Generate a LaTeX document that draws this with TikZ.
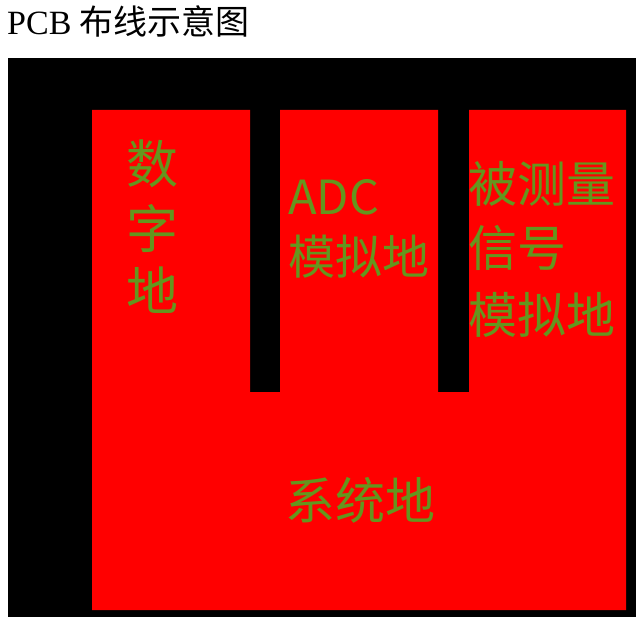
\documentclass[tikz,border=0pt]{standalone}
\usepackage{fontspec}
\setmainfont{Liberation Serif}
\newfontfamily\cjk{Noto Sans CJK SC}
\definecolor{pourred}{RGB}{255,0,0}
\definecolor{labelgreen}{RGB}{100,150,30}

\begin{document}
\begin{tikzpicture}[x=1pt,y=-1pt]
\useasboundingbox (0,0) rectangle (636,617);

% title
\node[anchor=base west,inner sep=0pt,font=\fontsize{34}{40}\selectfont] (title) at (7,35) {PCB {\cjk 布线示意图}};

% board and ground pours
\fill[black] (8,58) rectangle (636,617);
\fill[pourred] (92,110) -- (250,110) -- (250,392) -- (280,392) -- (280,110)
    -- (438,110) -- (438,392) -- (469,392) -- (469,110) -- (626,110)
    -- (626,610) -- (92,610) -- cycle;

\begin{scope}[every node/.style={anchor=base west,inner sep=0pt,text=labelgreen,
              font=\cjk\fontsize{49}{60}\selectfont}]
    \node[font=\cjk\fontsize{52}{60}\selectfont] (dig1) at (126,184) {数};
    \node[font=\cjk\fontsize{52}{60}\selectfont] (dig2) at (126,249) {字};
    \node[font=\cjk\fontsize{52}{60}\selectfont] (dig3) at (126,310) {地};

    \node[font=\cjk\fontsize{47}{60}\selectfont] (adc1) at (288,215) {ADC};
    \node[font=\cjk\fontsize{47}{60}\selectfont] (adc2) at (288,274) {模拟地};

    \node (sig1) at (468,203) {被测量};
    \node (sig2) at (468,266) {信号};
    \node (sig3) at (468,333) {模拟地};

    \node[font=\cjk\fontsize{50}{60}\selectfont] (sys) at (285,519) {系统地};
\end{scope}
\end{tikzpicture}
\end{document}
